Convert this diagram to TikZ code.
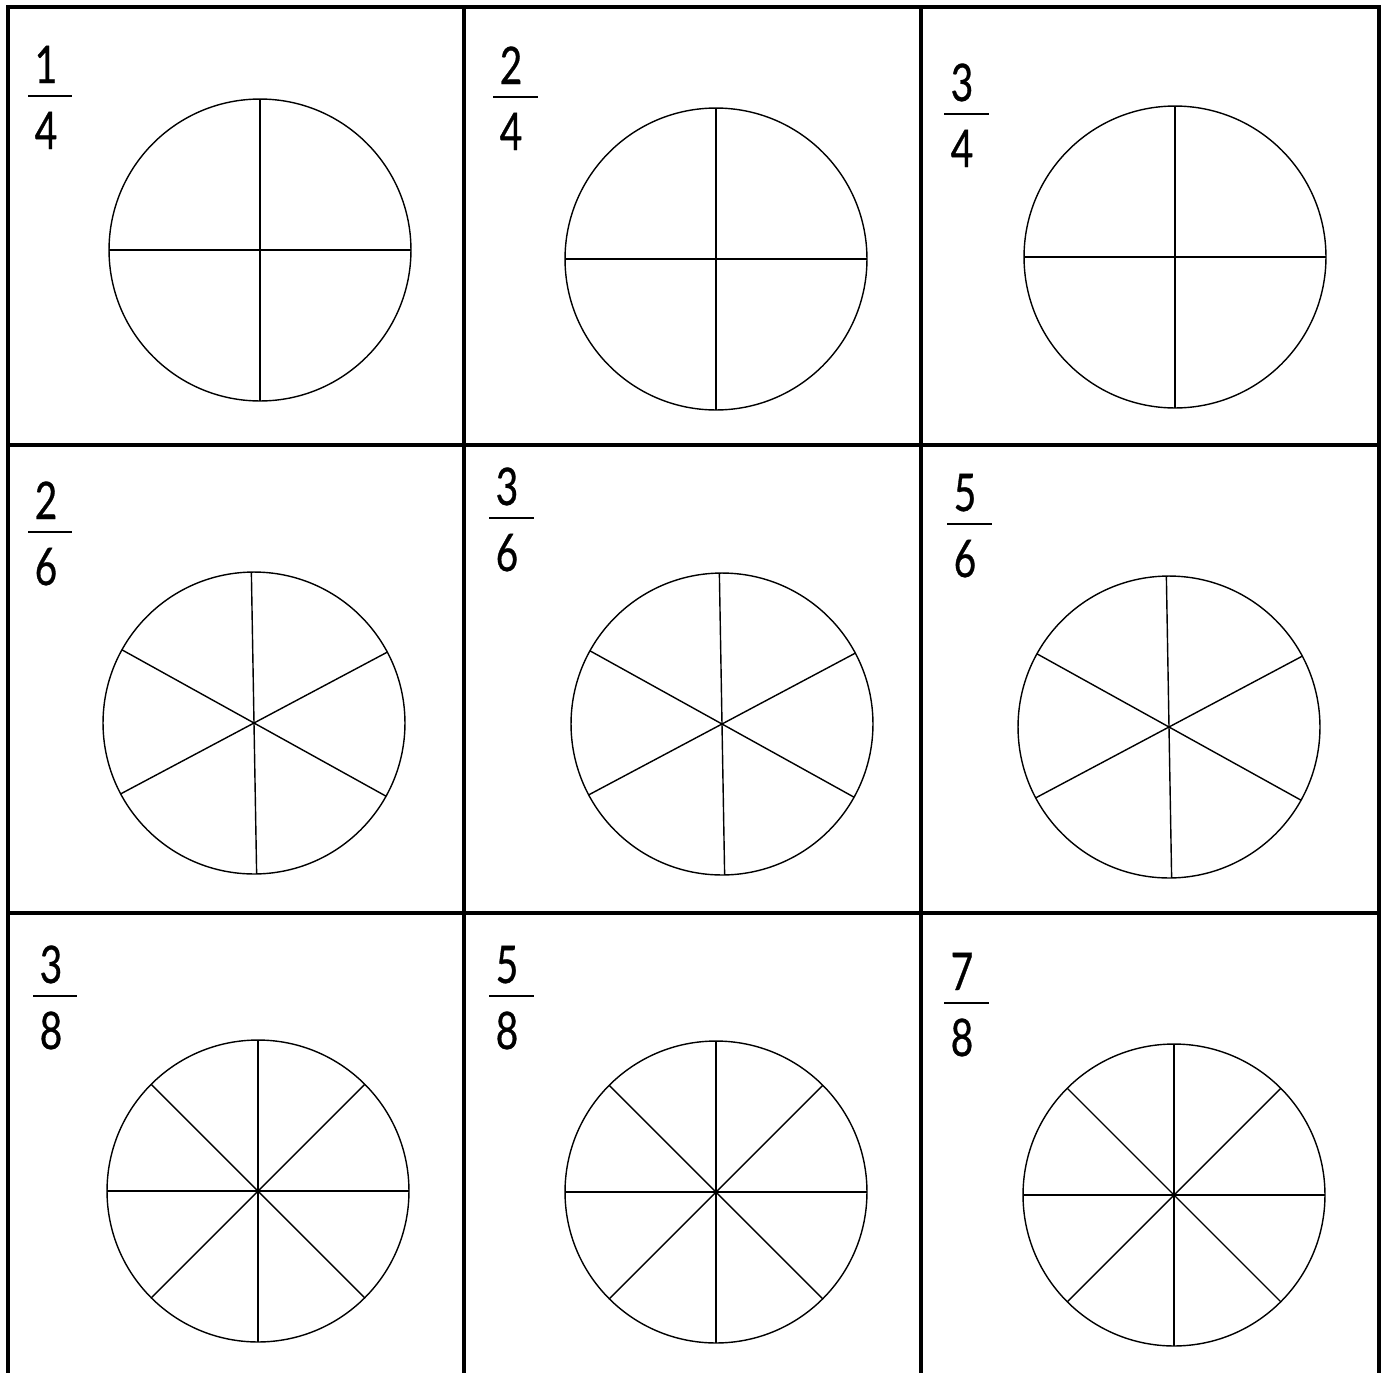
\documentclass[tikz,border=0pt]{standalone}
\usepackage{fontspec}
\newfontfamily\digitfont[FakeStretch=0.75,FakeBold=0.6]{Lato}
\usepackage{tikz}
\usetikzlibrary{positioning}

\begin{document}
\begin{tikzpicture}[x=0.02cm, y=-0.02cm,
    grid/.style={draw, line width=1.9pt, line cap=butt},
    wheel/.style={circle, draw, line width=0.8pt, inner sep=0pt, outer sep=0pt, minimum size=6.04cm},
    spoke/.style={line width=0.8pt},
    digit/.style={anchor=base, inner sep=0pt, xshift=-0.08cm, font=\digitfont\fontsize{29.5}{30}\selectfont},
    fracbar/.style={fill=black, inner sep=0pt, minimum width=0.9cm, minimum height=0.055cm}]

    \useasboundingbox (0,0) rectangle (1387,1373);

    % grid, open at the bottom
    \draw[grid] (8,1373) -- (8,7) -- (1379,7) -- (1379,1373);
    \draw[grid] (464,7) -- (464,1373);
    \draw[grid] (921,7) -- (921,1373);
    \draw[grid] (8,445) -- (1379,445);
    \draw[grid] (8,913) -- (1379,913);

    % fractions
    \foreach \bx/\by/\num/\den/\id in {50/96/1/4/11, 515/97/2/4/12, 966/114/3/4/13,
                                       50/532/2/6/21, 511/518/3/6/22, 969/524/5/6/23,
                                       55/996/3/8/31, 511/996/5/8/32, 966/1003/7/8/33} {
        \node[fracbar] (bar\id) at (\bx,\by) {};
        \node[digit] (num\id) at (\bx,\by-13) {\num};
        \node[digit] (den\id) at (\bx,\by+53) {\den};
    }

    % quarters
    \foreach \cx/\cy/\id in {260/250/11, 716/259/12, 1175/257/13} {
        \node[wheel] (w\id) at (\cx,\cy) {};
        \foreach \a in {0,90,180,270}
            \draw[spoke] (w\id.center) -- (w\id.\a);
    }

    % sixths
    \foreach \cx/\cy/\id in {254/723/21, 722/724/22, 1169/727/23} {
        \node[wheel] (w\id) at (\cx,\cy) {};
        \foreach \a in {28,91,151,208,271,331}
            \draw[spoke] (w\id.center) -- (w\id.\a);
    }

    % eighths
    \foreach \cx/\cy/\id in {258/1191/31, 716/1192/32, 1174/1195/33} {
        \node[wheel] (w\id) at (\cx,\cy) {};
        \foreach \a in {0,45,...,315}
            \draw[spoke] (w\id.center) -- (w\id.\a);
    }
\end{tikzpicture}
\end{document}
